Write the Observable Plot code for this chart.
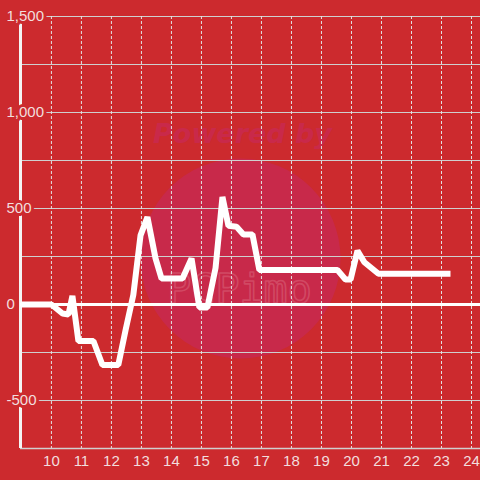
<!DOCTYPE html>
<html>
<head>
<meta charset="utf-8">
<script src="https://cdn.jsdelivr.net/npm/d3@7"></script>
<script src="https://cdn.jsdelivr.net/npm/@observablehq/plot@0.6"></script>
<style>
  html, body { margin: 0; padding: 0; background: #cc2a2e; }
  #chart svg { display: block; }
</style>
</head>
<body>
<div id="chart"></div>
<script>
// Time of day (decimal hours) and values
const times = [8.97, 10.0, 10.37, 10.57, 10.7, 10.9, 11.4, 11.7, 12.23, 12.47, 12.73, 12.97, 13.2, 13.47, 13.67, 14.37, 14.67, 14.93, 15.2, 15.47, 15.7, 15.9, 16.17, 16.4, 16.7, 16.93, 19.53, 19.8, 19.97, 20.2, 20.43, 20.9, 23.3];
const values = [0, 0, -47, -52, 45, -190, -190, -315, -315, -135, 50, 360, 455, 240, 135, 135, 240, -15, -15, 190, 560, 410, 405, 365, 365, 180, 180, 130, 130, 280, 220, 160, 160];

const xTicks = [10, 11, 12, 13, 14, 15, 16, 17, 18, 19, 20, 21, 22, 23, 24];
const yGrid = [-500, -250, 250, 500, 750, 1000, 1250, 1500];
const yLabelValues = [-500, 0, 500, 1000, 1500];
const yLabels = ["-500", "0", "500", "1,000", "1,500"];
const watermarkTop = "Powered by";
const watermarkLogo = "PCPimo";

const data = times.map((t, i) => ({t, v: values[i]}));
const yLabelData = yLabelValues.map((v, i) => ({v, label: yLabels[i]}));

const bg = "#cc2a2e";
const font = "Liberation Sans, Arial, sans-serif";
const labelColor = "#f2dede";

const chart = Plot.plot({
  width: 480,
  height: 480,
  marginLeft: 20,
  marginRight: 0,
  marginTop: 16,
  marginBottom: 32,
  style: {background: bg, fontFamily: font},
  x: {domain: [8.97, 24.3], axis: null},
  y: {domain: [-750, 1500], axis: null},
  marks: [
    // watermark
    Plot.dot([0], {frameAnchor: "middle", dx: -10, dy: 26, r: 100, fill: "#c8294a", stroke: "none"}),
    Plot.text([watermarkTop], {text: d => d, frameAnchor: "middle", dx: -8, dy: -98, fontSize: 27, fontWeight: "bold", fontStyle: "italic", fill: "#c9294a", fontFamily: "DejaVu Sans, sans-serif"}),
    Plot.text([watermarkLogo], {text: d => d, frameAnchor: "middle", dx: -11, dy: 58, fontSize: 40, fill: "none", stroke: "#d9657a", strokeOpacity: 0.55, strokeWidth: 1.6, fontFamily: "DejaVu Sans Mono, monospace"}),
    // grid
    Plot.ruleY(yGrid, {stroke: "#cfcfcf", strokeWidth: 1}),
    Plot.ruleX(xTicks, {stroke: "#e2e2e2", strokeWidth: 1, strokeDasharray: "3,2"}),
    // axes lines
    Plot.ruleY([-750], {stroke: "#d0d0d0", strokeWidth: 1.5}),
    Plot.ruleX([8.97], {stroke: "#f4f4f4", strokeWidth: 3}),
    Plot.ruleY([0], {stroke: "#ffffff", strokeWidth: 3}),
    // y labels with halo
    Plot.text(yLabelData, {y: "v", text: "label", frameAnchor: "left", dx: -14, textAnchor: "start", lineAnchor: "middle", fontSize: 15, fill: labelColor, stroke: bg, strokeWidth: 6, strokeLinejoin: "round", paintOrder: "stroke"}),
    // data line
    Plot.line(data, {x: "t", y: "v", stroke: "#ffffff", strokeWidth: 6, strokeLinejoin: "miter", strokeLinecap: "butt", curve: "linear"}),
    // x labels
    Plot.text(xTicks, {x: d => d, text: d => String(d), frameAnchor: "bottom", dy: 13, lineAnchor: "middle", fontSize: 15, fill: labelColor})
  ]
});

document.getElementById("chart").appendChild(chart);
</script>
</body>
</html>
